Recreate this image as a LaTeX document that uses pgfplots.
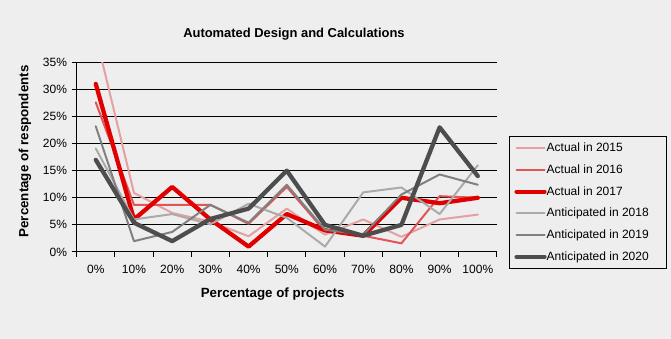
\documentclass[border=0pt]{standalone}
\usepackage{pgfplots}
\pgfplotsset{compat=1.18}
\usepackage{fontspec}
\setmainfont{Liberation Sans}
\definecolor{bg}{HTML}{EEEEEE}
\definecolor{c15}{HTML}{E6A0A0}
\definecolor{c16}{HTML}{E05555}
\definecolor{c17}{HTML}{E00000}
\definecolor{c18}{HTML}{AAAAAA}
\definecolor{c19}{HTML}{808080}
\definecolor{c20}{HTML}{4D4D4D}
\begin{document}
\begin{tikzpicture}
\fill[bg] (0,0) rectangle (503.25pt,254.25pt);
\begin{axis}[
  at={(57.5pt,65.25pt)}, anchor=south west,
  scale only axis, width=315.2pt, height=142.3pt,
  xmin=-0.5, xmax=10.5, ymin=0, ymax=35,
  axis lines*=left,
  axis line style={black, line width=0.75pt},
  xtick={0,...,10},
  xticklabels={0\%,10\%,20\%,30\%,40\%,50\%,60\%,70\%,80\%,90\%,100\%},
  major x tick style={draw=none},
  minor xtick={-0.5,0.5,...,10.5},
  minor tick length=3.75pt,
  minor x tick style={black, line width=0.75pt},
  ytick={0,5,...,35},
  yticklabels={0\%,5\%,10\%,15\%,20\%,25\%,30\%,35\%},
  y tick style={black, line width=0.75pt},
  major tick length=3.75pt,
  tick align=outside,
  ymajorgrids, grid style={black, line width=0.75pt},
  ticklabel style={font=\fontsize{9}{10}\selectfont, text=black},
  xticklabel style={anchor=center, yshift=-9pt},
  yticklabel style={anchor=east},
  xlabel={Percentage of projects},
  ylabel={Percentage of respondents},
  label style={font=\fontsize{10}{12}\selectfont\bfseries},
  xlabel style={at={(axis description cs:0.4663,-0.2214)}, anchor=center},
  ylabel style={at={(axis description cs:-0.123,0.53)}, anchor=center},
  title={Automated Design and Calculations},
  title style={font=\fontsize{9.7}{12}\selectfont\bfseries, at={(axis description cs:0.517,1.107)}, anchor=center},
  legend style={at={(1.0285,0.6105)}, anchor=north west, draw=black, line width=0.75pt, fill=bg,
    font=\fontsize{9}{10}\selectfont, inner xsep=3.75pt, inner ysep=0.5pt, row sep=0pt,
    nodes={inner sep=0pt, minimum height=16.3pt}},
  legend cell align=left,
  legend image code/.code={\draw[#1] (0pt,0pt) -- (21pt,0pt);},
  every axis plot/.append style={line join=round, line cap=round},
]
\addplot[c15, line width=1.5pt] coordinates {(0,40) (1,10.9) (2,7.2) (3,5.6) (4,2.9) (5,8.0) (6,3.2) (7,6.0) (8,2.8) (9,6.0) (10,6.9)};
\addlegendentry{\makebox[86.25pt][l]{Actual in 2015}}
\addplot[c16, line width=1.5pt] coordinates {(0,27.6) (1,8.7) (2,8.7) (3,8.7) (4,5.2) (5,12.0) (6,3.8) (7,3.0) (8,1.6) (9,10.3) (10,10.0)};
\addlegendentry{\makebox[86.25pt][l]{Actual in 2016}}
\addplot[c17, line width=3.2pt] coordinates {(0,31) (1,6) (2,12) (3,6) (4,1) (5,7) (6,4) (7,3) (8,10) (9,9) (10,10)};
\addlegendentry{\makebox[86.25pt][l]{Actual in 2017}}
\addplot[c18, line width=1.5pt] coordinates {(0,19.1) (1,6.0) (2,7.0) (3,5.1) (4,8.9) (5,6.3) (6,1.0) (7,11.0) (8,11.9) (9,7.0) (10,16.0)};
\addlegendentry{\makebox[86.25pt][l]{Anticipated in 2018}}
\addplot[c19, line width=1.5pt] coordinates {(0,23.2) (1,2.0) (2,3.7) (3,8.7) (4,5.4) (5,12.4) (6,4.1) (7,3.2) (8,10.6) (9,14.3) (10,12.4)};
\addlegendentry{\makebox[86.25pt][l]{Anticipated in 2019}}
\addplot[c20, line width=3.2pt] coordinates {(0,17) (1,5.4) (2,2.0) (3,6.1) (4,8.0) (5,15) (6,5) (7,3) (8,5) (9,23) (10,14)};
\addlegendentry{\makebox[86.25pt][l]{Anticipated in 2020}}
\end{axis}
\end{tikzpicture}
\end{document}
